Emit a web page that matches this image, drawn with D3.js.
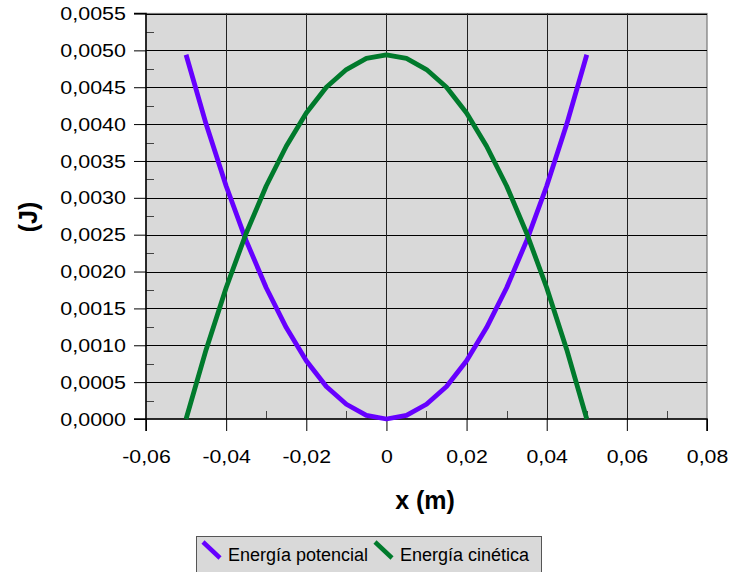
<!DOCTYPE html>
<html>
<head>
<meta charset="utf-8">
<script src="https://cdn.jsdelivr.net/npm/d3@7"></script>
<style>
  body { margin: 0; background: #fff; }
  text { font-family: "Liberation Sans", Arial, sans-serif; }
</style>
</head>
<body>
<svg id="svg"></svg>
<script>
// positions x (m)
let xs = [-0.05, -0.045, -0.04, -0.035, -0.03, -0.025, -0.02, -0.015, -0.01, -0.005, 0,
          0.005, 0.01, 0.015, 0.02, 0.025, 0.03, 0.035, 0.04, 0.045, 0.05];
let potencial = [0.00494, 0.0040, 0.00316, 0.00242, 0.00178, 0.00124, 0.00079, 0.00044, 0.0002, 0.00005, 0,
                 0.00005, 0.0002, 0.00044, 0.00079, 0.00124, 0.00178, 0.00242, 0.00316, 0.0040, 0.00494];
let cinetica = [0, 0.00094, 0.00178, 0.00252, 0.00316, 0.0037, 0.00415, 0.0045, 0.00474, 0.00489, 0.00494,
                0.00489, 0.00474, 0.0045, 0.00415, 0.0037, 0.00316, 0.00252, 0.00178, 0.00094, 0];
let xTicks = [-0.06, -0.04, -0.02, 0, 0.02, 0.04, 0.06, 0.08];
let yTicks = [0, 0.0005, 0.001, 0.0015, 0.002, 0.0025, 0.003, 0.0035, 0.004, 0.0045, 0.005, 0.0055];
let seriesNames = ["Energía potencial", "Energía cinética"];

let layout = {"width": 730, "height": 572, "left": 146, "right": 707, "top": 13.5, "bottom": 419};

let svg = d3.select("#svg").attr("width", layout.width).attr("height", layout.height);

let xScale = d3.scaleLinear().domain([-0.06, 0.08]).range([layout.left, layout.right]);
let yScale = d3.scaleLinear().domain([0, 0.0055]).range([layout.bottom, layout.top]);
let colors = ["#6600ff", "#007a2c"];

// plot background
svg.append("rect")
   .attr("x", layout.left).attr("y", layout.top)
   .attr("width", layout.right - layout.left).attr("height", layout.bottom - layout.top)
   .attr("fill", "#d9d9d9").attr("stroke", "#777").attr("stroke-width", 1.2);

// grid
svg.append("g").selectAll("line").data(yTicks.slice(1)).join("line")
   .attr("x1", layout.left).attr("x2", layout.right)
   .attr("y1", d => Math.round(yScale(d)) + 0.5).attr("y2", d => Math.round(yScale(d)) + 0.5)
   .attr("stroke", "#000").attr("stroke-width", 1);
svg.append("g").selectAll("line").data(xTicks.slice(1, -1)).join("line")
   .attr("y1", layout.top).attr("y2", layout.bottom)
   .attr("x1", d => Math.round(xScale(d)) + 0.5).attr("x2", d => Math.round(xScale(d)) + 0.5)
   .attr("stroke", "#222").attr("stroke-width", 1);

// minor ticks (inside)
let yMinor = d3.range(11).map(i => 0.00025 + i * 0.0005);
svg.append("g").selectAll("line").data(yMinor).join("line")
   .attr("x1", layout.left).attr("x2", layout.left + 8)
   .attr("y1", d => Math.round(yScale(d)) + 0.5).attr("y2", d => Math.round(yScale(d)) + 0.5)
   .attr("stroke", "#444");
let xMinor = d3.range(7).map(i => -0.05 + i * 0.02);
svg.append("g").selectAll("line").data(xMinor).join("line")
   .attr("y1", layout.bottom).attr("y2", layout.bottom - 8)
   .attr("x1", d => Math.round(xScale(d)) + 0.5).attr("x2", d => Math.round(xScale(d)) + 0.5)
   .attr("stroke", "#444");

// axes
let fmtY = d => d3.format(".4f")(d).replace(".", ",");
let fmtX = d => d === 0 ? "0" : d.toFixed(2).replace(".", ",");

let yAxis = svg.append("g")
   .attr("transform", `translate(${layout.left},0)`)
   .call(d3.axisLeft(yScale).tickValues(yTicks).tickFormat(fmtY).tickSize(12).tickPadding(8));
let xAxis = svg.append("g")
   .attr("transform", `translate(0,${layout.bottom})`)
   .call(d3.axisBottom(xScale).tickValues(xTicks).tickFormat(fmtX).tickSize(12).tickPadding(19));
[yAxis, xAxis].forEach(a => {
  a.select(".domain").attr("stroke", "#000").attr("stroke-width", 1.5);
  a.selectAll(".tick line").attr("stroke", "#000");
  a.selectAll("text").attr("font-size", 19).attr("fill", "#000")
   .attr("font-family", "'Liberation Sans', Arial, sans-serif");
});
yAxis.select(".domain").attr("d", `M-12,${layout.bottom}H0V${layout.top}H-12`);
xAxis.select(".domain").attr("d", `M${layout.left},12V0H${layout.right}V12`);

// reference glyphs run a little wider than Liberation Sans
function widen(sel, k) {
  sel.each(function() {
    let w = this.getComputedTextLength();
    d3.select(this).attr("textLength", w * k).attr("lengthAdjust", "spacingAndGlyphs");
  });
}
widen(yAxis.selectAll("text"), 1.13);
widen(xAxis.selectAll("text"), 1.12);

// lines
let line = d3.line().x(d => xScale(d[0])).y(d => yScale(d[1]));
[potencial, cinetica].forEach((vals, i) => {
  svg.append("path")
     .datum(xs.map((x, j) => [x, vals[j]]))
     .attr("d", line)
     .attr("fill", "none")
     .attr("stroke", colors[i])
     .attr("stroke-width", 4.8)
     .attr("stroke-linejoin", "round");
});

// axis titles
svg.append("text")
   .attr("x", 425).attr("y", 509)
   .attr("text-anchor", "middle")
   .attr("font-size", 25).attr("font-weight", "bold")
   .text("x (m)");
svg.append("text")
   .attr("transform", "translate(37,217) rotate(-90)")
   .attr("text-anchor", "middle")
   .attr("font-size", 25).attr("font-weight", "bold")
   .text("(J)");

// legend
let legend = svg.append("g");
legend.append("rect")
   .attr("x", 196.5).attr("y", 536.5).attr("width", 345).attr("height", 50)
   .attr("fill", "#d9d9d9").attr("stroke", "#555").attr("stroke-width", 1);
let legX = [203, 375];
seriesNames.forEach((name, i) => {
  legend.append("line")
     .attr("x1", legX[i]).attr("y1", 542).attr("x2", legX[i] + 17).attr("y2", 558)
     .attr("stroke", colors[i]).attr("stroke-width", 4.5);
  legend.append("text")
     .attr("x", legX[i] + 25).attr("y", 561)
     .attr("font-size", 18).attr("fill", "#000")
     .text(name);
});
</script>
</body>
</html>
